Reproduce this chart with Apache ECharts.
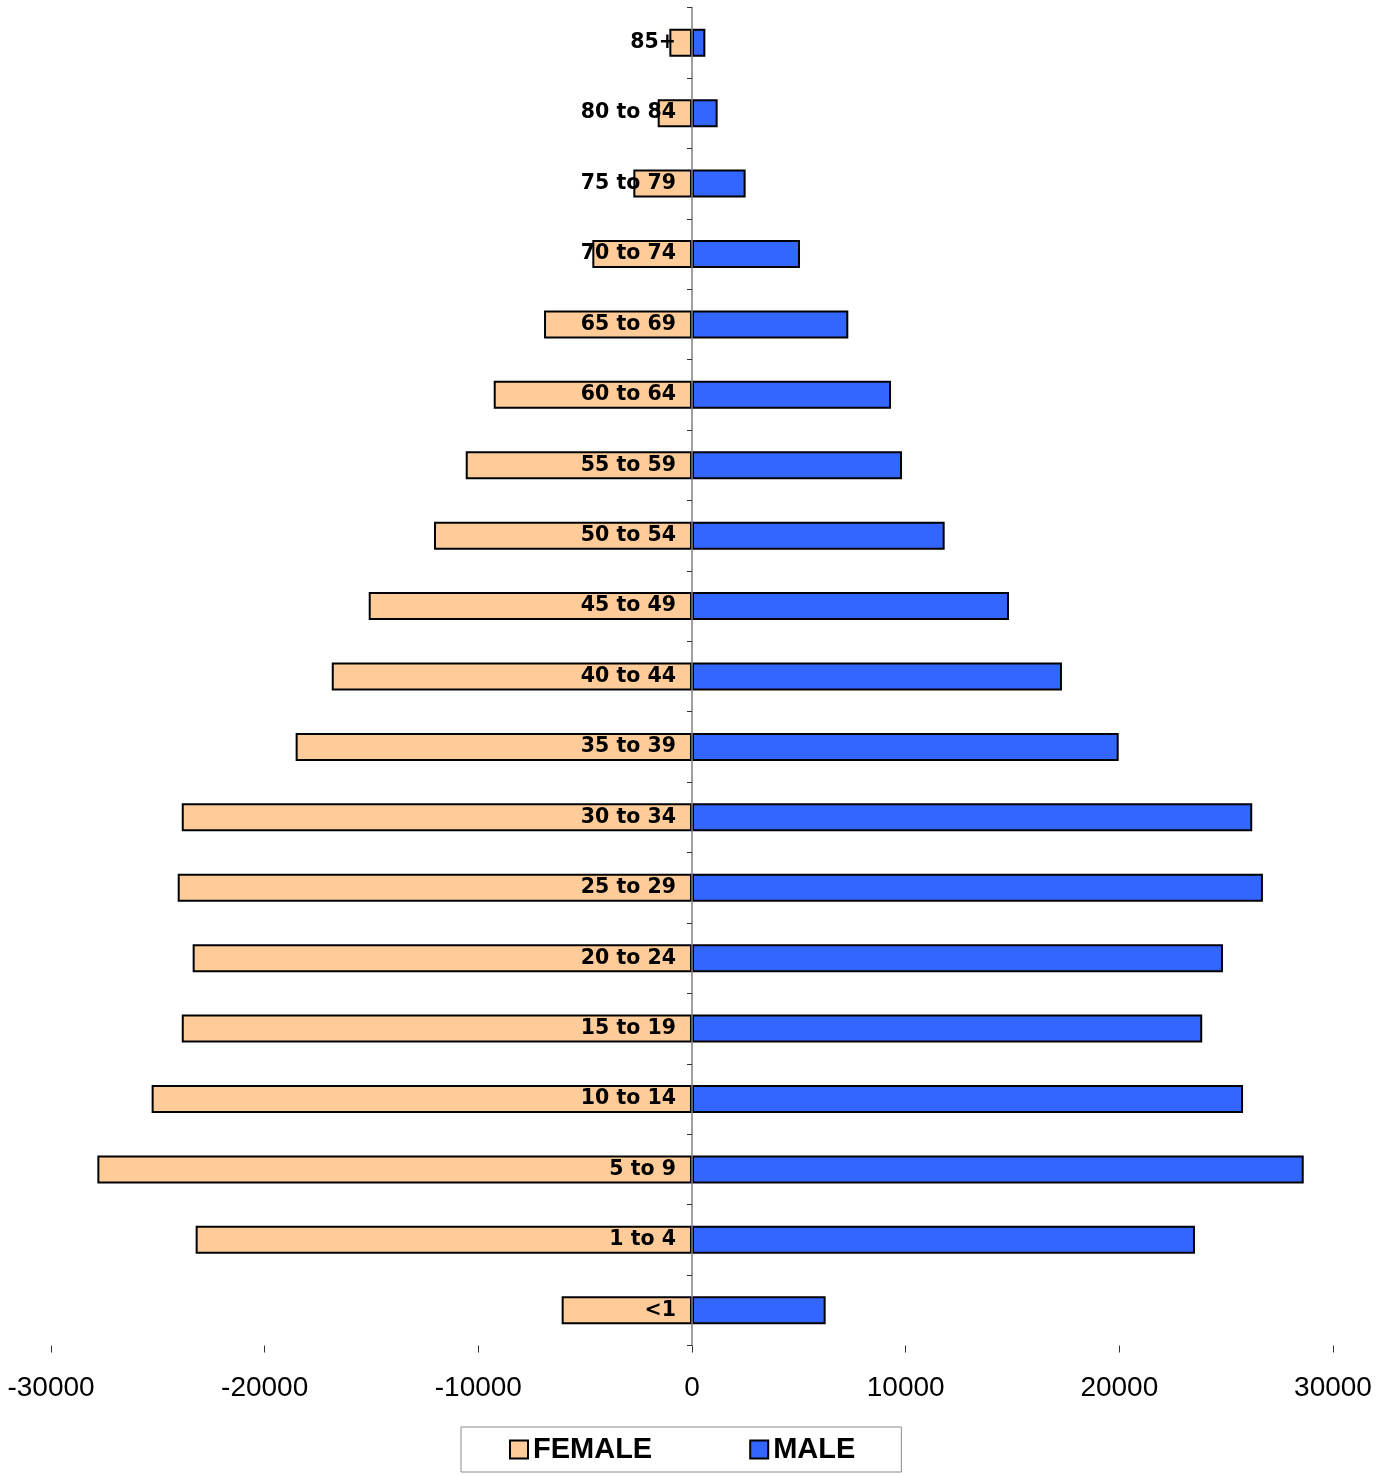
<!DOCTYPE html>
<html>
<head>
<meta charset="utf-8">
<script src="https://cdn.jsdelivr.net/npm/echarts@6/dist/echarts.min.js"></script>
<style>
  html, body { margin: 0; padding: 0; background: #ffffff; }
  #chart { width: 1394px; height: 1474px; }
</style>
</head>
<body>
<div id="chart"></div>
<script>
const ageGroups = [
  '<1', '1 to 4', '5 to 9', '10 to 14', '15 to 19', '20 to 24', '25 to 29',
  '30 to 34', '35 to 39', '40 to 44', '45 to 49', '50 to 54', '55 to 59',
  '60 to 64', '65 to 69', '70 to 74', '75 to 79', '80 to 84', '85+'
]
const female = [
  -6100, -23230, -27830, -25290, -23880, -23370, -24070,
  -23880, -18550, -16860, -15130, -12075, -10590,
  -9280, -6925, -4665, -2745, -1605, -1060
]
const male = [
  6255, 23540, 28630, 25790, 23880, 24850, 26720,
  26220, 19970, 17315, 14835, 11825, 9830,
  9315, 7315, 5055, 2510, 1200, 625
]
const xTicks = { min: -30000, max: 30000, interval: 10000 }

const chart = echarts.init(document.getElementById('chart'))

chart.setOption({
  backgroundColor: '#ffffff',
  animation: false,
  grid: {
    left: 51,
    right: 61,
    top: 7.5,
    bottom: 128.5,
    containLabel: false,
    outerBoundsMode: 'none',
  },
  legend: {
    left: 461,
    top: 1427,
    orient: 'horizontal',
    padding: [8, 46, 8, 48],
    itemGap: 97,
    itemWidth: 18,
    itemHeight: 18,
    borderColor: '#8c8c8c',
    borderWidth: 1,
    textStyle: {
      fontFamily: '"Liberation Sans", Arial, sans-serif',
      fontWeight: 'bold',
      fontSize: 29,
      color: '#000',
    },
    data: [
      { name: 'FEMALE', icon: 'rect', itemStyle: { borderColor: '#000', borderWidth: 2 } },
      { name: 'MALE', icon: 'rect', itemStyle: { borderColor: '#000', borderWidth: 2 } },
    ],
  },
  xAxis: {
    type: 'value',
    min: xTicks.min,
    max: xTicks.max,
    interval: xTicks.interval,
    axisLine: { show: false },
    axisTick: { show: true, length: 7, lineStyle: { color: '#333', width: 1 } },
    splitLine: { show: false },
    axisLabel: {
      margin: 29,
      color: '#000',
      fontSize: 28,
      fontFamily: '"Liberation Sans", Arial, sans-serif',
      formatter: (v) => String(v),
    },
  },
  yAxis: {
    type: 'category',
    data: ageGroups,
    z: 5,
    axisLine: { show: true, onZero: true, lineStyle: { color: '#808080', width: 1.5 } },
    axisTick: { show: true, length: 5, lineStyle: { color: '#333', width: 1 } },
    axisLabel: { show: false },
  },
  series: [
    {
      name: 'FEMALE',
      type: 'bar',
      data: female,
      barWidth: 28,
      barGap: '-100%',
      itemStyle: { color: '#FFCC99', borderColor: '#000', borderWidth: 2 },
      label: {
        show: true,
        position: 'insideRight',
        distance: 16,
        formatter: (p) => p.name,
        color: '#000',
        fontSize: 20.5,
        fontWeight: 'bold',
        fontFamily: '"DejaVu Sans", Verdana, sans-serif',
      },
      z: 2,
    },
    {
      name: 'MALE',
      type: 'bar',
      data: male,
      barWidth: 28,
      barGap: '-100%',
      itemStyle: { color: '#3366FF', borderColor: '#000', borderWidth: 2 },
      z: 1,
    },
  ],
})
</script>
</body>
</html>
